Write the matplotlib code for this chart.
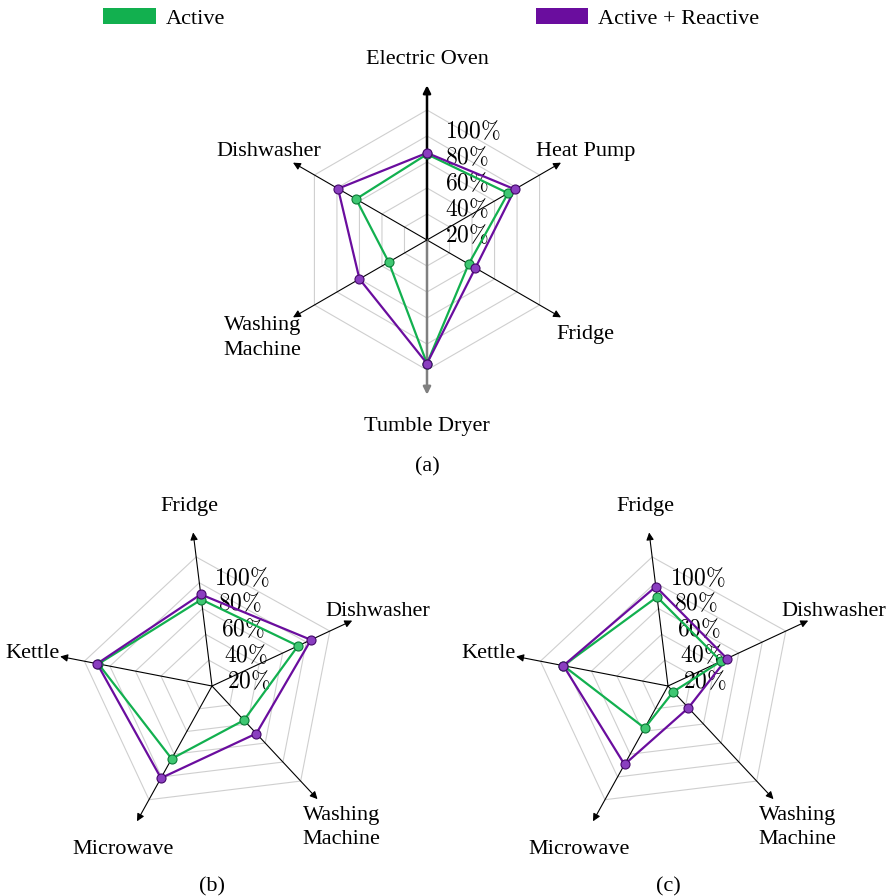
import numpy as np
import matplotlib
matplotlib.use("Agg")
import matplotlib.pyplot as plt
from matplotlib.patches import Rectangle

plt.rcParams["mathtext.fontset"] = "cm"
SERIF = ["Liberation Serif", "DejaVu Serif"]

# ---- data -------------------------------------------------------------
series_names = ["Active", "Active + Reactive"]
series_colors = ["#12b04f", "#6a0d9e"]
marker_faces = ["#3fc772", "#8a3ec0"]
marker_edges = ["#0b7a36", "#44086a"]

ticks = [0.2, 0.4, 0.6, 0.8, 1.0]
tick_labels = [r"$20\%$", r"$40\%$", r"$60\%$", r"$80\%$", r"$100\%$"]

# (a) six appliances
cats_a = ["Electric Oven", "Heat Pump", "Fridge", "Tumble Dryer",
          "Washing\nMachine", "Dishwasher"]
active_a = [0.66, 0.72, 0.37, 0.95, 0.34, 0.63]
reactive_a = [0.67, 0.78, 0.43, 0.95, 0.60, 0.79]

# (b) five appliances
cats_b = ["Fridge", "Dishwasher", "Washing\nMachine", "Microwave", "Kettle"]
active_b = [0.67, 0.73, 0.36, 0.64, 0.89]
reactive_b = [0.71, 0.84, 0.50, 0.81, 0.90]

# (c) five appliances
cats_c = ["Fridge", "Dishwasher", "Washing\nMachine", "Microwave", "Kettle"]
active_c = [0.69, 0.45, 0.06, 0.37, 0.82]
reactive_c = [0.77, 0.50, 0.23, 0.69, 0.82]

# ---- figure -----------------------------------------------------------
W, H = 895, 896
fig = plt.figure(figsize=(W / 100, H / 100), dpi=100)
SCALE = 130.0  # pixels per unit radius
EXT = 1.6
NUDGE = 0.022  # small downward shift so text sits visually centred


def make_axes(cx, cy):
    half = EXT * SCALE
    ax = fig.add_axes([(cx - half) / W, (H - cy - half) / H,
                       2 * half / W, 2 * half / H])
    ax.set_xlim(-EXT, EXT)
    ax.set_ylim(-EXT, EXT)
    ax.set_aspect("equal")
    ax.axis("off")
    return ax


def radar(ax, cats, start_deg, values_list, caption, cap_y, heavy_vertical=False):
    n = len(cats)
    ang = np.deg2rad(start_deg - 360.0 / n * np.arange(n))
    ca, sa = np.cos(ang), np.sin(ang)

    # polygonal grid rings
    for t in ticks:
        xs = np.append(t * ca, t * ca[0])
        ys = np.append(t * sa, t * sa[0])
        ax.plot(xs, ys, color="#cfcfcf", lw=0.8, zorder=1)

    # axes with arrow heads
    tip = 1.19
    for i in range(n):
        lw, col = 0.8, "black"
        if heavy_vertical and i == 0:
            lw = 1.8
        if heavy_vertical and i == n // 2:
            lw, col = 1.8, "#808080"
        ax.annotate("", xy=(tip * ca[i], tip * sa[i]), xytext=(0, 0),
                    arrowprops=dict(arrowstyle="-|>", lw=lw, color=col,
                                    mutation_scale=11, shrinkA=0, shrinkB=0),
                    zorder=2)
        r = 1.46 if "\n" in cats[i] else 1.41
        ax.text(r * ca[i], r * sa[i] - NUDGE, cats[i], ha="center", va="center",
                fontsize=16, family=SERIF, linespacing=1.4)

    # tick labels along the first axis
    for t, lab in zip(ticks, tick_labels):
        ax.text(t * ca[0] + 0.14, t * sa[0] - 0.16, lab, ha="left",
                va="center", fontsize=17, zorder=3)

    # data polygons
    for vals, c, fc, ec in zip(values_list, series_colors, marker_faces, marker_edges):
        v = np.asarray(vals)
        xs = np.append(v * ca, v[0] * ca[0])
        ys = np.append(v * sa, v[0] * sa[0])
        ax.plot(xs, ys, color=c, lw=1.6, zorder=4, solid_joinstyle="miter")
        ax.plot(v * ca, v * sa, ls="none", marker="o", ms=6.5,
                markerfacecolor=fc, markeredgecolor=ec, markeredgewidth=0.8,
                zorder=5)

    ax.text(0, cap_y - NUDGE, caption, ha="center", va="center", fontsize=16,
            family=SERIF)


ax_a = make_axes(427, 240)
radar(ax_a, cats_a, 90, [active_a, reactive_a], "(a)", -(464 - 240) / SCALE,
      heavy_vertical=True)

ax_b = make_axes(212, 686)
radar(ax_b, cats_b, 97, [active_b, reactive_b], "(b)", -(884 - 686) / SCALE)

ax_c = make_axes(668, 686)
radar(ax_c, cats_c, 97, [active_c, reactive_c], "(c)", -(884 - 686) / SCALE)

# legend across the top
legend_boxes = [(103, 156, 166), (536, 588, 598)]
for (x0, x1, tx), name, col in zip(legend_boxes, series_names, series_colors):
    fig.add_artist(Rectangle((x0 / W, 1 - 24 / H), (x1 - x0) / W, 16 / H,
                             transform=fig.transFigure, facecolor=col,
                             edgecolor="none"))
    fig.text(tx / W, 1 - 19 / H, name, ha="left", va="center", fontsize=16,
             family=SERIF)

fig.savefig("out.png", dpi=100)
